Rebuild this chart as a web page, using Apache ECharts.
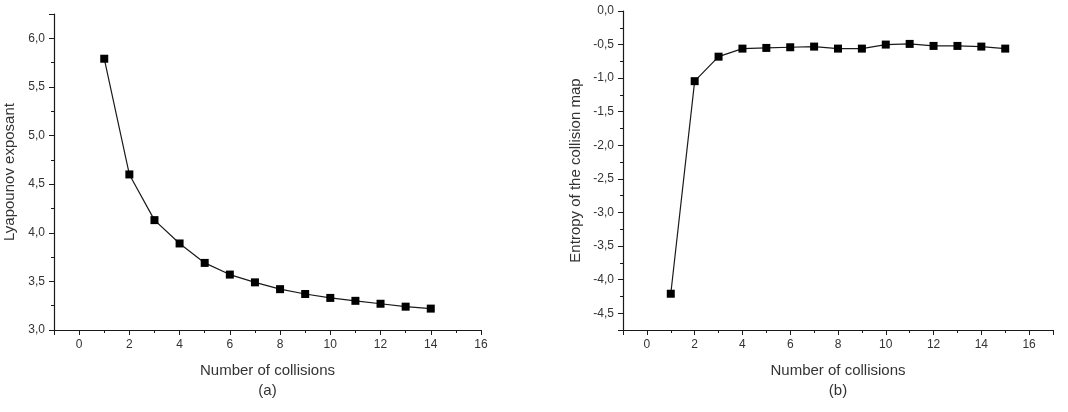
<!DOCTYPE html>
<html lang="en">
<head>
<meta charset="utf-8">
<title>Collisions</title>
<script src="https://cdn.jsdelivr.net/npm/echarts@6/dist/echarts.min.js"></script>
<style>
  html, body { margin: 0; padding: 0; background: #fff; }
  #main { width: 1068px; height: 412px; }
</style>
</head>
<body>
<div id="main"></div>
<script>
// data
var collisionsA = [1, 2, 3, 4, 5, 6, 7, 8, 9, 10, 11, 12, 13, 14];
var lyapunov = [5.79, 4.60, 4.13, 3.89, 3.69, 3.57, 3.49, 3.42, 3.37, 3.33, 3.30, 3.27, 3.24, 3.22];
var collisionsB = [1, 2, 3, 4, 5, 6, 7, 8, 9, 10, 11, 12, 13, 14, 15];
var entropy = [-4.21, -1.045, -0.68, -0.56, -0.55, -0.54, -0.53, -0.56, -0.56, -0.50, -0.49, -0.52, -0.52, -0.53, -0.56];

function pairs(xs, ys) {
  var out = [];
  for (var i = 0; i < xs.length; i++) out.push([xs[i], ys[i]]);
  return out;
}

var ink = '#1a1a1a';
var txt = '#333';
var font = 'Liberation Sans, Arial, sans-serif';

function xLabel(v) {
  return (Math.abs(v % 2) < 1e-6) ? String(v) : '';
}
function yLabel(v) {
  var r = Math.round(v * 2) / 2;
  if (Math.abs(r - v) > 1e-6) return '';
  return v.toFixed(1).replace('.', ',');
}

function mainX(grid, min, max, split, name) {
  return {
    type: 'value', gridIndex: grid, position: 'bottom', min: min, max: max, splitNumber: split,
    name: name, nameLocation: 'middle', nameGap: 31,
    nameTextStyle: { fontSize: 15, color: txt, fontFamily: font, lineHeight: 20 },
    axisLine: { show: true, onZero: false, lineStyle: { color: ink, width: 1.2 } },
    axisTick: { show: true, inside: false, length: 5, lineStyle: { color: ink } },
    axisLabel: { formatter: xLabel, fontSize: 12, color: txt, fontFamily: font, margin: 9 },
    splitLine: { show: false }
  };
}
function minorX(grid, min, max) {
  return {
    type: 'value', gridIndex: grid, position: 'bottom', min: min, max: max, interval: 1,
    axisLine: { show: false, onZero: false },
    axisTick: { show: true, length: 3, lineStyle: { color: ink } },
    axisLabel: { show: false }, splitLine: { show: false }
  };
}
function mainY(grid, min, max, split, name, gap) {
  return {
    type: 'value', gridIndex: grid, position: 'left', min: min, max: max, splitNumber: split,
    name: name, nameLocation: 'middle', nameGap: gap,
    nameTextStyle: { fontSize: 15, color: txt, fontFamily: font },
    axisLine: { show: true, onZero: false, lineStyle: { color: ink, width: 1.2 } },
    axisTick: { show: true, inside: false, length: 5, lineStyle: { color: ink } },
    axisLabel: { formatter: yLabel, fontSize: 12, color: txt, fontFamily: font, margin: 9 },
    splitLine: { show: false }
  };
}
function minorY(grid, min, max) {
  return {
    type: 'value', gridIndex: grid, position: 'left', min: min, max: max, interval: 0.25,
    axisLine: { show: false, onZero: false },
    axisTick: { show: true, length: 3, lineStyle: { color: ink } },
    axisLabel: { show: false }, splitLine: { show: false }
  };
}

var option = {
  animation: false,
  backgroundColor: '#fff',
  grid: [
    { left: 54, top: 14, width: 427, height: 316 },
    { left: 623, top: 11, width: 430, height: 319 }
  ],
  xAxis: [
    mainX(0, -1, 16, 8, 'Number of collisions\n(a)'),
    minorX(0, -1, 16),
    mainX(1, -1, 17, 9, 'Number of collisions\n(b)'),
    minorX(1, -1, 17)
  ],
  yAxis: [
    mainY(0, 3, 6.25, 7, 'Lyapounov exposant', 37),
    minorY(0, 3, 6.25),
    mainY(1, -4.75, 0, 10, 'Entropy of the collision map', 40),
    minorY(1, -4.75, 0)
  ],
  series: [
    {
      type: 'line', xAxisIndex: 0, yAxisIndex: 0,
      data: pairs(collisionsA, lyapunov),
      symbol: 'rect', symbolSize: 8,
      lineStyle: { color: ink, width: 1.2 },
      itemStyle: { color: '#000' }
    },
    {
      type: 'line', xAxisIndex: 2, yAxisIndex: 2,
      data: pairs(collisionsB, entropy),
      symbol: 'rect', symbolSize: 8,
      lineStyle: { color: ink, width: 1.2 },
      itemStyle: { color: '#000' }
    }
  ]
};

var myChart = echarts.init(document.getElementById('main'));
myChart.setOption(option);
</script>
</body>
</html>
